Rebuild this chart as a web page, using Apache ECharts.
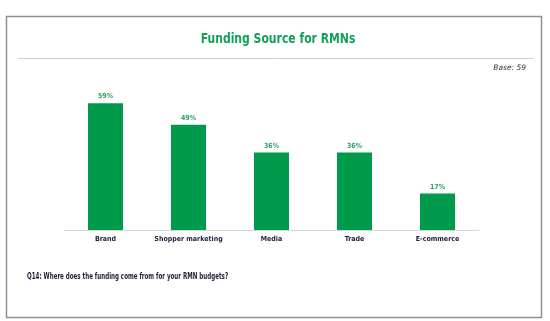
<!DOCTYPE html>
<html>
<head>
<meta charset="utf-8">
<script src="https://cdn.jsdelivr.net/npm/echarts@6/dist/echarts.min.js"></script>
<style>html,body{margin:0;padding:0;background:#fff}#c{width:550px;height:321px}</style>
</head>
<body>
<div id="c"></div>
<script>
const categories = ['Brand', 'Shopper marketing', 'Media', 'Trade', 'E-commerce'];
const values = [59, 49, 36, 36, 17];
const titleText = 'Funding Source for RMNs';
const baseText = 'Base: 59';
const questionText = 'Q14: Where does the funding come from for your RMN budgets?';

const chart = echarts.init(document.getElementById('c'), null, {renderer: 'canvas'});
const narrow = '"Liberation Sans Narrow", "DejaVu Sans Condensed", sans-serif';
chart.setOption({
  animation: false,
  grid: {left: 64, right: 71, top: 101, bottom: 91},
  xAxis: {
    type: 'category', data: categories,
    axisLine: {lineStyle: {color: '#d6d6d6', width: 1}},
    axisTick: {show: false},
    axisLabel: {interval: 0, margin: 6, fontFamily: narrow, fontWeight: 'bold', fontSize: 7, color: '#1c1c3a'}
  },
  yAxis: {type: 'value', min: 0, max: 60, show: false, splitLine: {show: false}},
  series: [{
    type: 'bar', data: values, barWidth: 35,
    itemStyle: {color: '#009a4c'},
    label: {show: true, position: 'top', distance: 3, formatter: '{c}%',
      fontFamily: narrow, fontWeight: 'bold', fontSize: 7, color: '#2f9e62'}
  }],
  graphic: [
    {type: 'rect', shape: {x: 6.5, y: 16.5, width: 535, height: 301}, style: {fill: 'none', stroke: '#8f8f8f', lineWidth: 1.5}, silent: true},
    {type: 'line', shape: {x1: 18, y1: 58.5, x2: 533, y2: 58.5}, style: {stroke: '#cfcfcf', lineWidth: 1}, silent: true},
    {type: 'text', x: 278, y: 39, scaleX: 0.86, style: {text: titleText, align: 'center', verticalAlign: 'middle', fontFamily: narrow, fontWeight: 'bold', fontSize: 14, fill: '#13a05a'}},
    {type: 'text', x: 526, y: 68, style: {text: baseText, align: 'right', verticalAlign: 'middle', fontFamily: '"DejaVu Sans", sans-serif', fontStyle: 'italic', fontSize: 7.5, fill: '#333'}},
    {type: 'text', x: 27, y: 277, scaleX: 0.77, style: {text: questionText, align: 'left', verticalAlign: 'middle', fontFamily: narrow, fontWeight: 'bold', fontSize: 8, fill: '#1c1c3a'}}
  ]
});
</script>
</body>
</html>
